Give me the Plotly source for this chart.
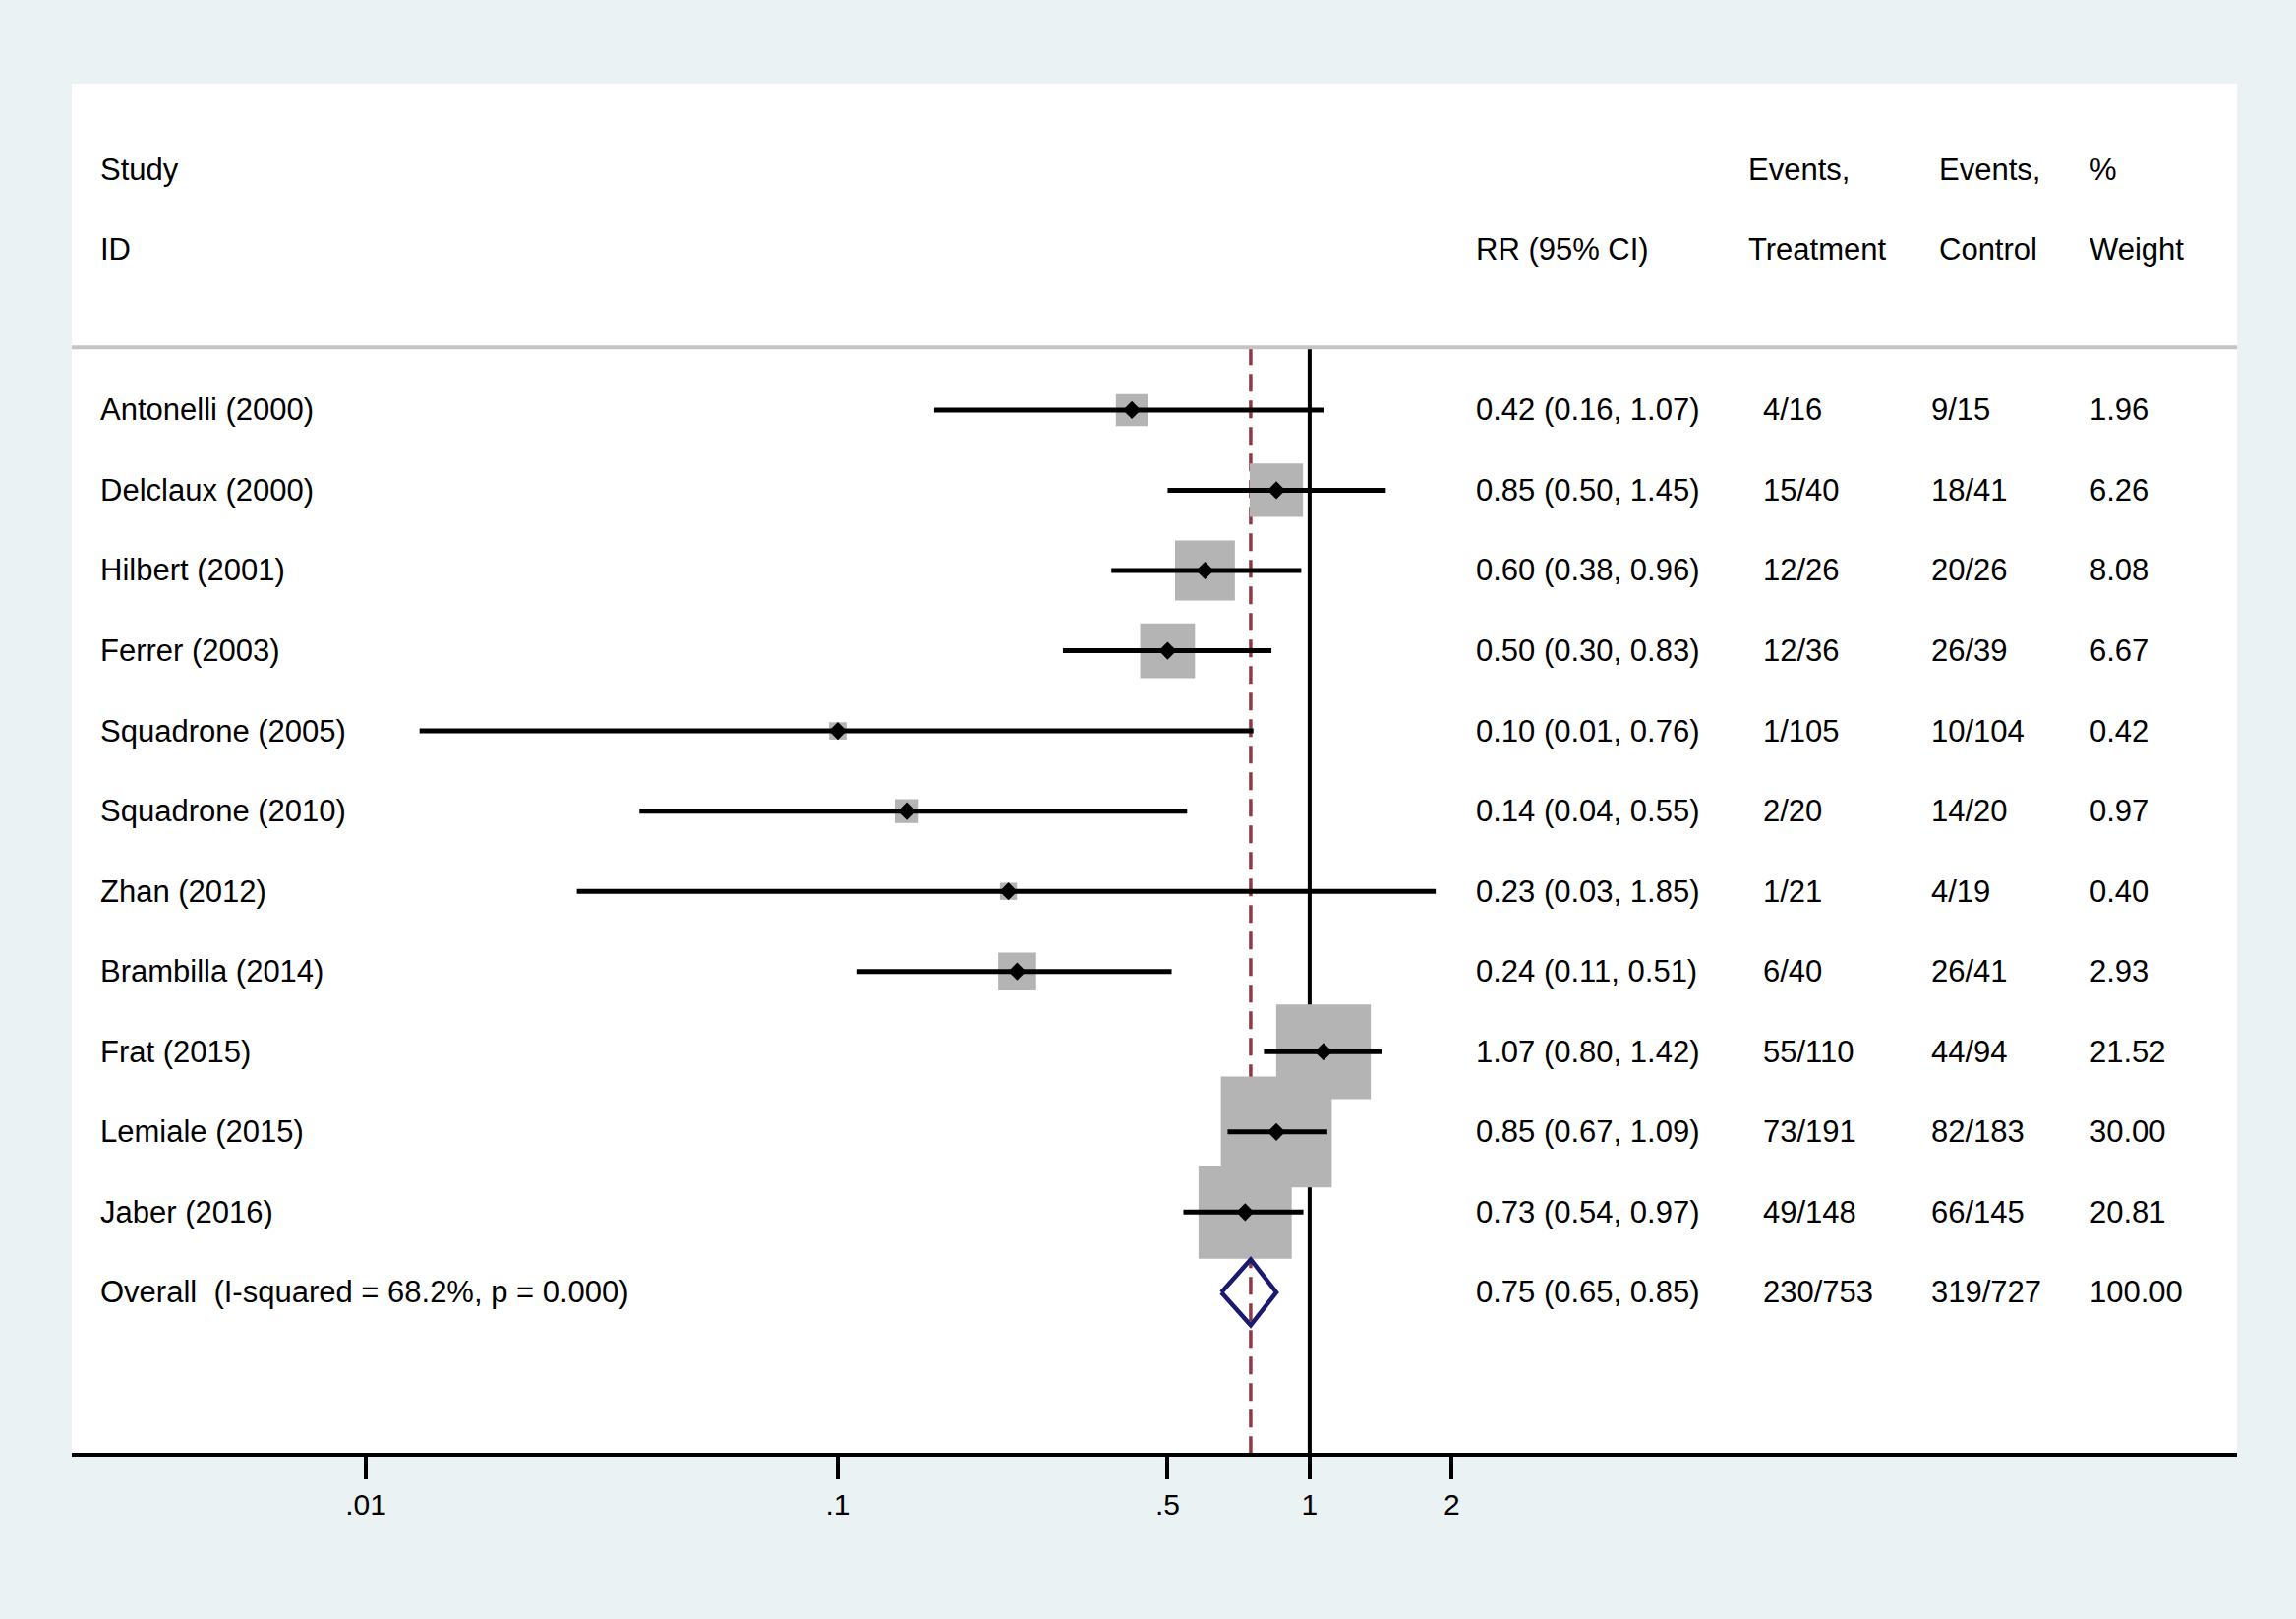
import numpy as np
import plotly.graph_objects as go

# Study-level results (risk ratio with 95% CI)
studies = ["Antonelli (2000)", "Delclaux (2000)", "Hilbert (2001)", "Ferrer (2003)",
           "Squadrone (2005)", "Squadrone (2010)", "Zhan (2012)", "Brambilla (2014)",
           "Frat (2015)", "Lemiale (2015)", "Jaber (2016)"]
rr = [0.42, 0.85, 0.60, 0.50, 0.10, 0.14, 0.23, 0.24, 1.07, 0.85, 0.73]
ci_low = [0.16, 0.50, 0.38, 0.30, 0.013, 0.038, 0.028, 0.11, 0.80, 0.67, 0.54]
ci_high = [1.07, 1.45, 0.96, 0.83, 0.76, 0.55, 1.85, 0.51, 1.42, 1.09, 0.97]
events_trt = [4, 15, 12, 12, 1, 2, 1, 6, 55, 73, 49]
total_trt = [16, 40, 26, 36, 105, 20, 21, 40, 110, 191, 148]
events_ctl = [9, 18, 20, 26, 10, 14, 4, 26, 44, 82, 66]
total_ctl = [15, 41, 26, 39, 104, 20, 19, 41, 94, 183, 145]
weights = [1.96, 6.26, 8.08, 6.67, 0.42, 0.97, 0.40, 2.93, 21.52, 30.00, 20.81]

# Pooled estimate
overall_label = "Overall&nbsp; (I-squared = 68.2%, p = 0.000)"
overall_rr = 0.75
overall_low = 0.65
overall_high = 0.85
overall_weight = 100.00

x_ticks = [0.01, 0.1, 0.5, 1, 2]
x_ticklabels = [".01", ".1", ".5", "1", "2"]

FONT = "Liberation Sans"
BG = "#eaf2f3"

rows = list(range(len(studies)))
overall_row = len(studies)
line_top = -0.78
y_bottom = 13.0

fig = go.Figure()

# reference line at 1 (boxes are drawn over it)
fig.add_trace(go.Scatter(
    x=[1, 1], y=[line_top, y_bottom], mode="lines",
    line=dict(color="black", width=4), hoverinfo="skip", showlegend=False))

# dashed line at the pooled estimate
fig.add_trace(go.Scatter(
    x=[overall_rr, overall_rr], y=[line_top, y_bottom], mode="lines",
    line=dict(color="#8c3b46", width=3.5, dash="18px,9px"),
    hoverinfo="skip", showlegend=False))

# weight boxes (side grows with sqrt of weight)
fig.add_trace(go.Scatter(
    x=rr, y=rows, mode="markers",
    marker=dict(symbol="square", color="#b4b4b4", opacity=1,
                size=[19.7 * np.sqrt(w) + 4.9 for w in weights], line=dict(width=0)),
    hoverinfo="skip", showlegend=False))

# confidence intervals
ci_x, ci_y = [], []
for lo, hi, r in zip(ci_low, ci_high, rows):
    ci_x += [lo, hi, None]
    ci_y += [r, r, None]
fig.add_trace(go.Scatter(
    x=ci_x, y=ci_y, mode="lines",
    line=dict(color="black", width=5), hoverinfo="skip", showlegend=False))

# point estimates
fig.add_trace(go.Scatter(
    x=rr, y=rows, mode="markers",
    marker=dict(symbol="diamond", color="black", size=14, opacity=1, line=dict(width=0)),
    showlegend=False))

# pooled diamond
half_h = 0.41
fig.add_trace(go.Scatter(
    x=[overall_low, overall_rr, overall_high, overall_rr, overall_low],
    y=[overall_row, overall_row - half_h, overall_row, overall_row + half_h, overall_row],
    mode="lines", line=dict(color="#1a1a6e", width=4.5),
    hoverinfo="skip", showlegend=False))

# header separator
fig.add_shape(type="line", xref="paper", yref="y", x0=0, x1=1,
              y0=line_top, y1=line_top, line=dict(color="#c4c4c4", width=4))

# table text
col_study = 0.0123
col_rr = 0.6476
col_trt_head, col_trt = 0.7734, 0.7802
col_ctl_head, col_ctl = 0.8615, 0.8579
col_wt = 0.9310

annotations = []


def add_text(x, y, text):
    annotations.append(dict(x=x, y=y, xref="paper", yref="y", text=text,
                            showarrow=False, xanchor="left", yanchor="middle",
                            font=dict(family=FONT, size=31, color="black")))


add_text(col_study, -3, "Study")
add_text(col_study, -2, "ID")
add_text(col_rr, -2, "RR (95% CI)")
add_text(col_trt_head, -3, "Events,")
add_text(col_trt_head, -2, "Treatment")
add_text(col_ctl_head, -3, "Events,")
add_text(col_ctl_head, -2, "Control")
add_text(col_wt, -3, "%")
add_text(col_wt, -2, "Weight")

for i in rows:
    add_text(col_study, i, studies[i])
    add_text(col_rr, i, f"{rr[i]:.2f} ({ci_low[i]:.2f}, {ci_high[i]:.2f})")
    add_text(col_trt, i, f"{events_trt[i]}/{total_trt[i]}")
    add_text(col_ctl, i, f"{events_ctl[i]}/{total_ctl[i]}")
    add_text(col_wt, i, f"{weights[i]:.2f}")

add_text(col_study, overall_row, overall_label)
add_text(col_rr, overall_row, f"{overall_rr:.2f} ({overall_low:.2f}, {overall_high:.2f})")
add_text(col_trt, overall_row, f"{sum(events_trt)}/{sum(total_trt)}")
add_text(col_ctl, overall_row, f"{sum(events_ctl)}/{sum(total_ctl)}")
add_text(col_wt, overall_row, f"{overall_weight:.2f}")

fig.update_layout(
    width=2335, height=1646,
    margin=dict(l=73, r=60, t=85, b=169),
    paper_bgcolor=BG, plot_bgcolor="white",
    font=dict(family=FONT, size=31, color="black"),
    annotations=annotations,
    xaxis=dict(type="log", range=[-2.623, 1.965],
               tickvals=x_ticks, ticktext=x_ticklabels,
               ticks="outside", ticklen=23, tickwidth=3.5, tickcolor="black",
               showline=True, linewidth=4, linecolor="black",
               showgrid=False, zeroline=False,
               tickfont=dict(family=FONT, size=30, color="black")),
    yaxis=dict(range=[y_bottom, -4.07], visible=False, showgrid=False, zeroline=False),
)

fig.write_html("out.html",
               config={"displayModeBar": False},
               post_script="document.body.style.margin='0px';"
                           "document.body.style.overflow='hidden';")
